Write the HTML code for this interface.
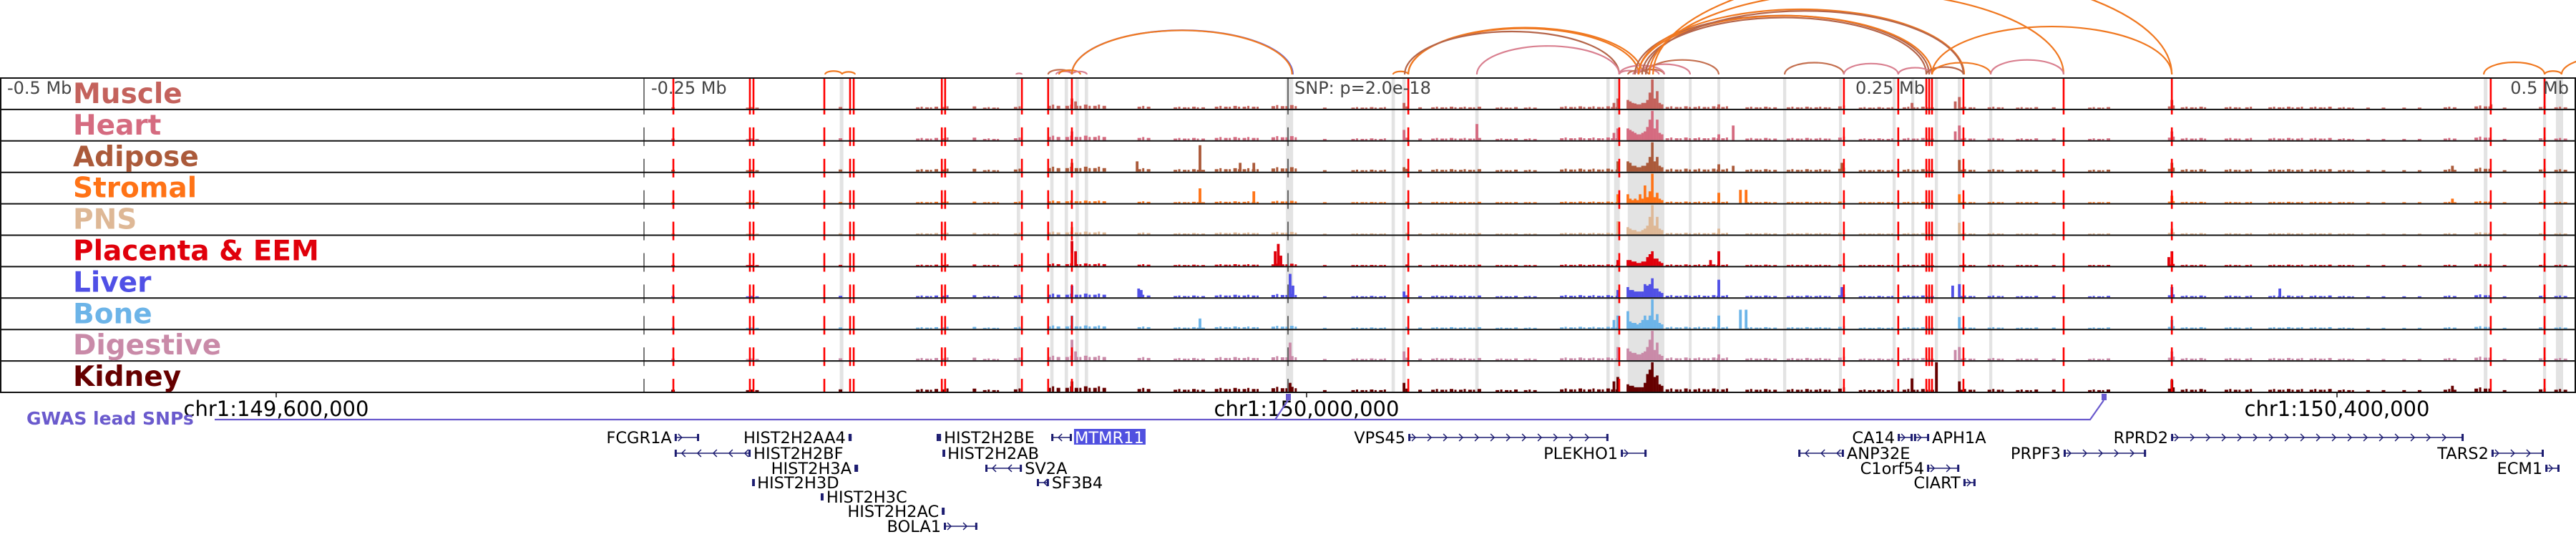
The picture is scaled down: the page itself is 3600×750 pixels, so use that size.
<!DOCTYPE html>
<html><head><meta charset="utf-8"><style>
html,body{margin:0;padding:0;background:#fff;}
svg{display:block;}
text{font-family:"DejaVu Sans","Liberation Sans",sans-serif;}
</style></head><body>
<svg id="c" width="3600" height="750" xmlns="http://www.w3.org/2000/svg"></svg>
<script>
// ---------- data (genomic offsets in kb relative to lead SNP) ----------
const tissues = ["Muscle","Heart","Adipose","Stromal","PNS","Placenta & EEM","Liver","Bone","Digestive","Kidney"];
const tissueColors = ["#c4625c","#d56b80","#ab5a3a","#ff7316","#deb896","#e0000b","#5050e6","#6cb4e8","#c98aa8","#660000"];
const snpLines = [-238.6,-208.9,-207.5,-180,-170,-168.6,-134.4,-133.1,-103.3,-93.1,-83.9,46.7,128.6,215.8,236.9,247.8,248.9,250,262.2,301.1,343.1,466.9,487.8];
const bands = [[-174,-172.6],[-105.3,-104],[-92.3,-91],[-86.7,-85.4],[-82.5,-81.2],[-78.9,-77.6],[-0.8,2],[40.2,41.5],[44.4,45.7],[72.7,74],[123.6,124.9],[126.6,128.8],[131.9,146.1],[155.6,156.7],[166.7,167.8],[192.2,193.4],[213.9,215],[234.7,235.9],[242,243.1],[251.1,252.3],[260,261.2],[272.2,273.4],[464.2,465.6],[487.2,488.4],[492.2,495]];
const bgRanges = [[-239,-238,.05],[-210,-205,.04],[-174,-173,.06],[-144,-136,.05],[-134,-131,.06],[-122,-121,.08],[-118,-111,.04],[-106,-103,.06],[-93,-89,.1],[-86,-71,.1],[-58,-53,.07],[-44,-33,.05],[-28,-11,.07],[-6,3,.09],[14,15,.04],[25,39,.04],[46,47,.08],[51,52,.05],[56,75,.05],[81,89,.04],[92,97,.04],[106,128,.06],[147,172,.06],[178,189,.05],[194,211,.05],[214,217,.08],[222,236,.04],[239,250,.05],[261,267,.05],[272,278,.05],[283,292,.04],[297,298,.05],[311,319,.04],[342,344,.08],[347,357,.05],[364,371,.05],[372,375,.05],[381,394,.05],[397,406,.05],[408,414,.04],[419,420,.04],[425,426,.04],[433,434,.04],[439,440,.04],[449,453,.05],[461,467,.08],[472,473,.04],[486,489,.06],[492,497,.05]];
const bgLevel = [1,1.1,1.2,0.6,0.7,0.6,0.9,0.8,1.1,1.3];
const mainStart = 131.9, mainStep = 0.95;
const mainProfiles = [
 [.3,.25,.2,.18,.15,.15,.2,.2,.3,.55,1,.35,.6,.2,.15],
 [.4,.35,.3,.25,.2,.2,.25,.3,.45,.7,1,.4,.7,.25,.2],
 [.35,.3,.2,.2,.15,.15,.2,.2,.3,.5,1,.35,.5,.2,.15],
 [.3,.15,.1,.15,.1,.3,.15,.6,.2,.4,1,.2,.35,.15,.1],
 [.25,.2,.15,.15,.1,.1,.15,.2,.3,.6,1,.3,.6,.2,.15],
 [.2,.2,.15,.15,.1,.1,.15,.15,.3,.4,.5,.25,.25,.15,.1],
 [.35,.25,.25,.2,.2,.2,.2,.45,.4,.45,.65,.3,.3,.2,.15],
 [.6,.25,.2,.2,.15,.2,.3,.45,.3,.45,1,.3,.5,.2,.15],
 [.4,.3,.25,.25,.2,.2,.25,.3,.45,.7,1,.35,.6,.2,.15],
 [.25,.2,.2,.15,.15,.15,.15,.3,.6,.75,1,.5,.55,.25,.2]];
const peaks = [
 [[-83.9,.35],[-82.5,.25],[45,.2],[128,.35],[126.5,.2],[167.2,.15],[242.2,.2],[260.6,.4],[259,.25],[343.1,.3],[467,.15]],
 [[-83.9,.3],[73.3,.55],[45,.35],[128,.4],[126.5,.25],[172.8,.5],[167.2,.2],[260.6,.5],[259,.3],[343.1,.3]],
 [[-83.9,.3],[-58.6,.35],[-34.2,.9],[-18.6,.3],[-13.3,.3],[45,.15],[128,.35],[167.2,.25],[172.8,.2],[215,.3],[260.6,.4],[343.1,.3],[452,.2]],
 [[-34.2,.5],[-13.3,.4],[128,.3],[167.2,.35],[175.6,.45],[177.8,.45],[260.6,.3],[343.1,.25],[452,.15]],
 [[-83.9,.25],[128,.45],[167.2,.2],[260.6,.4],[343.1,.2]],
 [[-83.9,.85],[-82.5,.5],[-5,.5],[-3.8,.75],[-2.8,.35],[128,.2],[167.2,.5],[164,.2],[343.1,.5],[341.9,.3]],
 [[-83.9,.4],[-58,.3],[-57,.25],[0.8,.8],[1.9,.4],[45,.2],[128,.25],[167.2,.6],[215,.35],[258,.4],[260.6,.45],[343.1,.35],[385,.3]],
 [[-83.9,.45],[-34.2,.35],[128,.45],[126.5,.3],[167.2,.45],[175.6,.65],[177.8,.65],[260.6,.4],[343.1,.3]],
 [[-83.9,.7],[-82.5,.3],[0.8,.6],[45,.3],[128,.45],[167.2,.2],[260.6,.45],[259,.35],[343.1,.3]],
 [[-83.9,.35],[0.8,.3],[45,.3],[128,.5],[126.5,.35],[242.2,.45],[251.7,1],[260.6,.35],[343.1,.4],[452,.2]]];
// arcs: [startKb, endKb, colour]
const arcs = [
 [-179.7,-173.1,"#f07820"],[-173.1,-168.1,"#f07820"],[-105.5,-103.3,"#d98090"],
 [-93.1,-83.9,"#c47050"],[-90,-83.9,"#d98090"],[-88.9,-80.6,"#f07820"],[-83.9,-78.1,"#d98090"],
 [-83.9,1.9,"#6060e0"],[-83.9,1.6,"#f07820"],[40.8,46.7,"#f07820"],
 [46.7,136.1,"#f07820"],[46.7,137.5,"#f07820"],[45.3,128.6,"#b5654a"],[73.3,128.6,"#d98090"],
 [128.6,136.1,"#d98090"],[132,140,"#c47050"],[134,144,"#d98090"],[136,146,"#c47050"],
 [136.1,156.1,"#d98090"],[138.9,167.2,"#c47050"],[128.6,146.1,"#d98090"],
 [134.7,248.9,"#b5654a"],[136.1,250,"#f07820"],[137.5,247.8,"#b5654a"],[136.1,262.5,"#f07820"],[138.9,262.2,"#b5654a"],
 [140.3,301.1,"#f07820"],[141.7,343.1,"#f07820"],
 [192.8,215.8,"#c47050"],[215.8,236.9,"#d98090"],[236.9,250,"#d98090"],[247.8,262.2,"#b5654a"],[250,272.8,"#f07820"],[272.8,301.1,"#d98090"],
 [250,343.1,"#f07820"],[464.2,487.8,"#f07820"],[487.8,494.4,"#f07820"],[494.4,527.8,"#f07820"]];
// genes: [name, startKb, endKb, strand, row, labelSide]
const genes = [
 ["FCGR1A",-238.1,-228.6,1,0,"L"],["HIST2H2BF",-238.1,-208.6,-1,1,"R"],["HIST2H2AA4",-170.6,-169.4,0,0,"L"],
 ["HIST2H3A",-168.3,-166.9,0,2,"L"],["HIST2H3D",-207.8,-207.2,0,3,"R"],["HIST2H3C",-181.4,-180.3,0,4,"R"],
 ["HIST2H2AC",-134.4,-133.3,0,5,"L"],["BOLA1",-133.6,-120.6,1,6,"L"],["HIST2H2BE",-136.4,-134.7,0,0,"R"],
 ["HIST2H2AB",-133.9,-133.3,0,1,"R"],["SV2A",-117.5,-103.3,-1,2,"R"],["SF3B4",-97.5,-92.8,-1,3,"R"],
 ["MTMR11",-91.9,-83.9,-1,0,"R"],["VPS45",46.7,124.4,1,0,"L"],["PLEKHO1",129.2,139.2,1,1,"L"],
 ["CA14",236.7,242.5,1,0,"L"],["APH1A",243,248.9,1,0,"R"],["ANP32E",198.1,215.8,-1,1,"R"],
 ["C1orf54",248.1,260.6,1,2,"L"],["CIART",262.2,266.9,1,3,"L"],["PRPF3",301.1,333.1,1,1,"L"],
 ["RPRD2",342.8,456.4,1,0,"L"],["TARS2",467.2,487.5,1,1,"L"],["ECM1",488.1,493.6,1,2,"L"]];
const axisTicksMb = [149.6,150.0,150.4];
const axisTickLabels = ["chr1:149,600,000","chr1:150,000,000","chr1:150,400,000"];
const snpMb = 149.99278;
// ---------- rendering ----------
const NS="http://www.w3.org/2000/svg", svg=document.getElementById('c');
const X = kb => 1800 + kb*3.6;
const TOP=109, RH=43.9, NT=10, BOT=TOP+RH*NT;
function el(t,a,p){const e=document.createElementNS(NS,t);for(const k in a)e.setAttribute(k,a[k]);(p||svg).appendChild(e);return e;}
const gBands=el('g',{});


bands.forEach(b=>{const r=el('rect',{x:X(b[0]),y:TOP,width:Math.max(3,X(b[1])-X(b[0])),height:BOT-TOP,fill:'#e3e3e3'},gBands);
 
 });
// signals
for(let t=0;t<NT;t++){
 const g=el('g',{fill:tissueColors[t]});
 
 
 const base=TOP+RH*(t+1)-1, H=41;
 bgRanges.forEach(r=>{let n=0;for(let k=r[0];k<=r[1];k+=1.8,n++){const h=Math.max(1.2,r[2]*bgLevel[t]*H*(n%3===1?1.4:1));
  const b=el('rect',{x:X(k)-1.5,y:base-h,width:(n%2?3:5),height:h},g);
  
  }});
 mainProfiles[t].forEach((v,i)=>{const h=v*H;const b=el('rect',{x:X(mainStart+i*mainStep)-1.7,y:base-h,width:3.6,height:h},g);
  
  });
 peaks[t].forEach(p=>{const h=p[1]*H;const b=el('rect',{x:X(p[0])-1.8,y:base-h,width:3.8,height:h},g);
  
  });
}
// dashed lines
function dashed(x,col,w,name){const g=el('g',{stroke:col,'stroke-width':w});
 
 
 el('line',{x1:x,x2:x,y1:TOP,y2:TOP+RH+7},g);
 for(let t=1;t<NT;t++){const y=TOP+RH*t+25;el('line',{x1:x,x2:x,y1:y,y2:Math.min(BOT,y+26)},g);}
}
dashed(X(-250),'#777',2,'mb-marker-line');
dashed(X(0),'#666',2,'lead-snp-line');
snpLines.forEach(k=>dashed(X(k),'#ff0000',2.6,'snp-line'));
// row borders
for(let t=0;t<=NT;t++){const l=el('line',{x1:0,x2:3600,y1:TOP+RH*t,y2:TOP+RH*t,stroke:'#111','stroke-width':2});
 
 }
el('line',{x1:1,x2:1,y1:TOP,y2:BOT,stroke:'#111','stroke-width':2});
el('line',{x1:3599,x2:3599,y1:TOP,y2:BOT,stroke:'#111','stroke-width':2});
// labels
tissues.forEach((n,t)=>{const tx=el('text',{x:102,y:TOP+RH*t+35,'font-size':39,'font-weight':'bold',fill:tissueColors[t]});tx.textContent=n;
 
 });
[["-0.5 Mb",10,"start"],["-0.25 Mb",X(-250)+10,"start"],["0.25 Mb",X(250)-10,"end"],["0.5 Mb",3590,"end"],["SNP: p=2.0e-18",X(0)+9,"start"]].forEach(a=>{
 const tx=el('text',{x:a[1],y:131,'font-size':24,fill:'#444','text-anchor':a[2]});tx.textContent=a[0];
 
 });
// arcs
const gA=el('g',{fill:'none','stroke-width':2.2});


arcs.forEach(a=>{const x1=X(a[0]),x2=X(a[1]),w=x2-x1,y=104;
 const p=el('path',{d:`M${x1} ${y} A ${w/2} ${w*0.2} 0 0 1 ${x2} ${y}`,stroke:a[2]},gA);
 
 });
// axis
axisTicksMb.forEach((m,i)=>{const x=X((m-snpMb)*1000);
 el('line',{x1:x,x2:x,y1:BOT,y2:BOT+7,stroke:'#111','stroke-width':1.5});
 const tx=el('text',{x:x,y:581,'font-size':29,'text-anchor':'middle',fill:'#000'});tx.textContent=axisTickLabels[i];
 
 });
// GWAS track
const gw=el('text',{x:37,y:593,'font-size':25,'font-weight':'bold',fill:'#6a5acd'});gw.textContent='GWAS lead SNPs';


el('path',{d:`M300 586 L2921 586 L2940 559 M1782 586 L1800 559`,stroke:'#6a5acd','stroke-width':2.2,fill:'none'});
el('rect',{x:X(0)-3,y:550,width:7,height:9,fill:'#6a5acd'});
el('rect',{x:2937,y:550,width:7,height:9,fill:'#6a5acd'});
// genes
const rowY=[611,633,654,674,694,714,735];
genes.forEach(g=>{const gg=el('g',{});
 
 
 const x1=X(g[1]),x2=X(g[2]),y=rowY[g[4]],col='#1c1c70';
 el('line',{x1:x1,x2:x2,y1:y,y2:y,stroke:col,'stroke-width':1.5},gg);
 el('rect',{x:x1,y:y-5,width:3,height:10,fill:col},gg);
 el('rect',{x:x2-3,y:y-5,width:3,height:10,fill:col},gg);
 if(g[3]!==0){for(let x=x1+10;x<x2-6;x+=22){const d=g[3]*5;
  el('path',{d:`M${x-d} ${y-5} L${x} ${y} L${x-d} ${y+5}`,stroke:col,'stroke-width':1.5,fill:'none'},gg);}}
 const lx=g[5]==="L"?x1-4:x2+4;
 if(g[0]==="MTMR11") el('rect',{x:lx-1,y:y-12,width:100,height:22,fill:'#5050e0'},gg);
 const tx=el('text',{x:lx,y:y+8,'font-size':22.5,'text-anchor':g[5]==="L"?'end':'start',fill:g[0]==="MTMR11"?'#fff':'#000'},gg);
 tx.textContent=g[0];
});
</script>
</body></html>
